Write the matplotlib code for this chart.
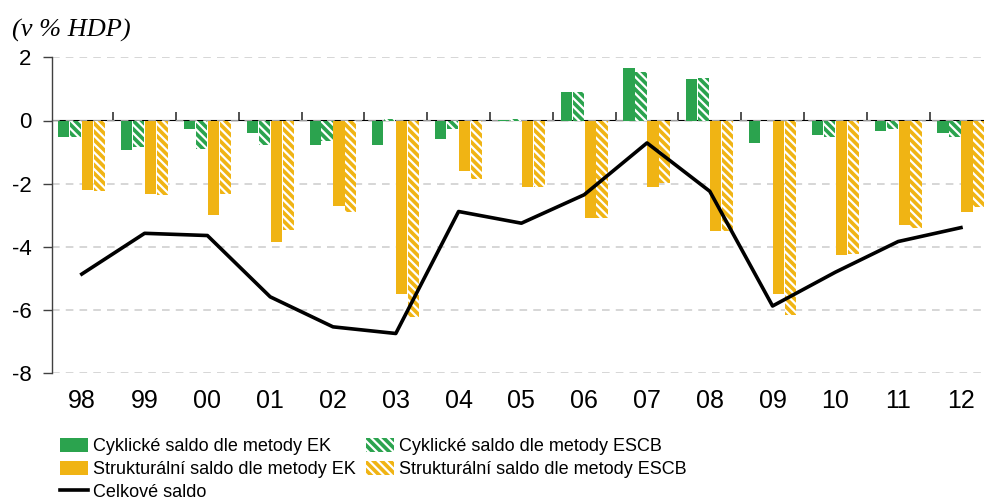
import matplotlib
matplotlib.use("Agg")
import matplotlib.pyplot as plt
import numpy as np

years = ["98", "99", "00", "01", "02", "03", "04", "05", "06", "07", "08", "09", "10", "11", "12"]
cyc_ek = [-0.53, -0.92, -0.27, -0.41, -0.79, -0.79, -0.59, 0.03, 0.89, 1.65, 1.30, -0.72, -0.47, -0.34, -0.40]
cyc_escb = [-0.53, -0.85, -0.91, -0.79, -0.66, 0.06, -0.27, 0.06, 0.89, 1.52, 1.33, 0.0, -0.53, -0.27, -0.53]
str_ek = [-2.19, -2.32, -3.00, -3.83, -2.69, -5.48, -1.61, -2.12, -3.07, -2.12, -3.51, -5.48, -4.27, -3.32, -2.88]
str_escb = [-2.24, -2.37, -2.32, -3.46, -2.88, -6.23, -1.85, -2.10, -3.07, -1.99, -3.51, -6.17, -4.21, -3.39, -2.75]
total = [-4.86, -3.57, -3.64, -5.58, -6.53, -6.74, -2.88, -3.25, -2.35, -0.71, -2.24, -5.87, -4.80, -3.83, -3.39]

GREEN = "#2ba34e"
YELLOW = "#f0b414"

plt.rcParams["font.family"] = ["Liberation Sans", "DejaVu Sans"]
plt.rcParams["hatch.linewidth"] = 1.6

fig = plt.figure(figsize=(9.84, 5.0), dpi=100)
ax = fig.add_axes([0.0525, 0.2534, 0.956, 0.632])

x = np.arange(len(years))
w = 0.178
step = 0.19
b1 = ax.bar(x - 1.5 * step, cyc_ek, w, color=GREEN, zorder=2)
b2 = ax.bar(x - 0.5 * step, cyc_escb, w, color=GREEN, edgecolor="white", linewidth=0,
            hatch="\\\\\\\\", zorder=2)
b3 = ax.bar(x + 0.5 * step, str_ek, w, color=YELLOW, zorder=2)
b4 = ax.bar(x + 1.5 * step, str_escb, w, color=YELLOW, edgecolor="white", linewidth=0,
            hatch="\\\\\\\\", zorder=2)
ln, = ax.plot(x, total, color="black", lw=2.6, zorder=3)

ax.set_xlim(-0.48, 14.5)
ax.set_ylim(-8, 2)
ax.set_yticks([2, 0, -2, -4, -6, -8])
ax.set_yticklabels(["2", "0", "-2", "-4", "-6", "-8"])
ax.tick_params(axis="y", length=6.5, width=1.0, pad=8, labelsize=16, color="#404040")
ax.yaxis.grid(True, color="#cccccc", linestyle=(0, (5, 4)), linewidth=1.1, zorder=0)

ax.set_xticks(x)
ax.set_xticklabels(years)
ax.tick_params(axis="x", length=0, labelsize=18, pad=11)

for s in ["top", "right", "bottom"]:
    ax.spines[s].set_visible(False)
ax.spines["left"].set_color("#404040")
ax.spines["left"].set_linewidth(1.0)

# zero line with separators between the years
sec = ax.secondary_xaxis(0.8)
sec.set_xticks(np.arange(len(years) + 1) - 0.5)
sec.set_xticklabels([])
sec.tick_params(axis="x", direction="out", length=6, width=1.2, color="#333333")
sec.spines["bottom"].set_color("#333333")
sec.spines["bottom"].set_linewidth(1.6)

fig.text(0.012, 0.915, "(v % HDP)", family=["Liberation Serif", "DejaVu Serif"],
         style="italic", fontsize=19, va="bottom", ha="left")

handles = [b1, b3, ln, b2, b4]
labels = ["Cyklické saldo dle metody EK", "Strukturální saldo dle metody EK", "Celkové saldo",
          "Cyklické saldo dle metody ESCB", "Strukturální saldo dle metody ESCB"]
fig.legend(handles, labels, ncol=2, loc="upper left",
           bbox_to_anchor=(0.061, 0.124), frameon=False, fontsize=13, borderpad=0,
           handlelength=1.55, handleheight=0.85, handletextpad=0.25, columnspacing=0.6,
           labelspacing=0.3, borderaxespad=0)

fig.savefig("out.png", dpi=100)
